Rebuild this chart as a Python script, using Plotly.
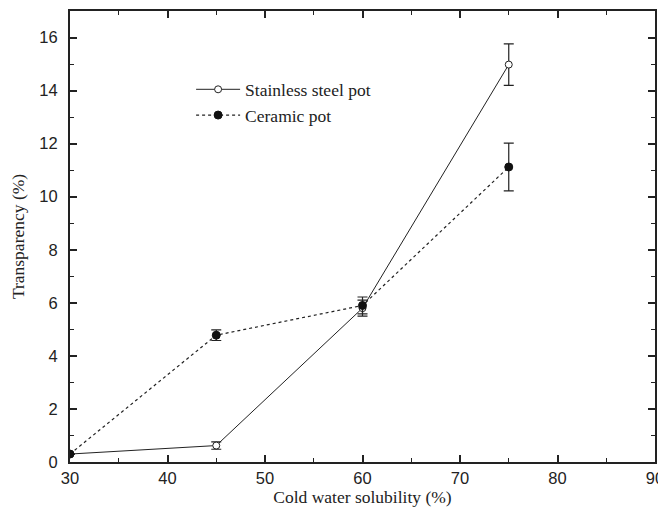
import plotly.graph_objects as go

x_vals = [30, 45, 60, 75]
steel_y = [0.3, 0.62, 5.8, 14.98]
steel_err = [0.0, 0.14, 0.3, 0.78]
ceramic_y = [0.3, 4.78, 5.9, 11.12]
ceramic_err = [0.0, 0.2, 0.32, 0.9]
x_ticks = [30, 40, 50, 60, 70, 80, 90]
y_ticks = [0, 2, 4, 6, 8, 10, 12, 14, 16]

serif = "Liberation Serif"
sans = "Liberation Sans"

fig = go.Figure()
fig.add_trace(go.Scatter(
    x=x_vals, y=steel_y, name="Stainless steel pot", mode="lines+markers",
    line=dict(color="#222", width=1),
    marker=dict(symbol="circle", size=7, color="white", line=dict(color="#222", width=1)),
    error_y=dict(type="data", array=steel_err, color="#222", thickness=1.2, width=5),
))
fig.add_trace(go.Scatter(
    x=x_vals, y=ceramic_y, name="Ceramic pot", mode="lines+markers",
    line=dict(color="#222", width=1.2, dash="dot"),
    marker=dict(symbol="circle", size=8, color="#111", line=dict(color="#111", width=1)),
    error_y=dict(type="data", array=ceramic_err, color="#222", thickness=1.2, width=5),
))

axis_common = dict(
    showline=True, linecolor="#222", linewidth=2, mirror="allticks",
    ticks="inside", ticklen=7, tickwidth=1.5, tickcolor="#222",
    showgrid=False, zeroline=False, automargin=False,
    tickfont=dict(family=sans, size=16.5, color="#222"),
)
fig.update_xaxes(
    range=[30, 90], tickvals=x_ticks, ticktext=[str(v) for v in x_ticks],
    minor=dict(ticks="inside", ticklen=4, tickwidth=1.2, tickcolor="#222", dtick=5, showgrid=False),
    title=dict(text="Cold water solubility (%)", font=dict(family=serif, size=17.5, color="#222"), standoff=3),
    **axis_common,
)
fig.update_yaxes(
    range=[0, 17], tickvals=y_ticks, ticktext=[str(v) for v in y_ticks],
    minor=dict(ticks="inside", ticklen=4, tickwidth=1.2, tickcolor="#222", dtick=1, showgrid=False),
    title=dict(text="Transparency (%)", font=dict(family=serif, size=17.5, color="#222"), standoff=10),
    ticklabelstandoff=7,
    **axis_common,
)
fig.update_layout(
    width=658, height=514,
    margin=dict(l=62, r=11, t=3, b=60),
    plot_bgcolor="white", paper_bgcolor="white",
    legend=dict(x=0.207, y=0.866, xanchor="left", yanchor="top",
                font=dict(family=serif, size=17.5, color="#222"),
                bgcolor="rgba(0,0,0,0)", itemwidth=44, tracegroupgap=0),
    showlegend=True,
)
fig.write_html("out.html")
